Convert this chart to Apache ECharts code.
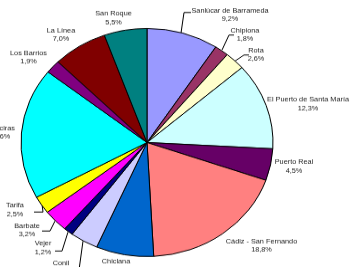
<!DOCTYPE html>
<html><head><meta charset="utf-8">
<script src="https://cdn.jsdelivr.net/npm/echarts@6/dist/echarts.min.js"></script>
<style>
html,body{margin:0;padding:0;background:#fff;overflow:hidden}
#wrap{width:353px;height:267px;overflow:hidden;position:relative}
#c{width:353px;height:295px;transform:scaleY(0.905);transform-origin:0 0}
</style></head><body><div id="wrap"><div id="c"></div></div>
<script>
const SY = 0.905;
const categories = ['Sanlúcar de Barrameda','Chipiona','Rota','El Puerto de Santa María','Puerto Real','Cádiz - San Fernando','Chiclana','Conil','Vejer','Barbate','Tarifa','Algeciras','Los Barrios','La Línea','San Roque'];
const values = [9.2, 1.8, 2.6, 12.3, 4.5, 18.8, 7.4, 3.6, 1.2, 3.2, 2.5, 18.6, 1.9, 7.0, 5.5];
const colors = ['#9999FF','#993366','#FFFFCC','#CCFFFF','#660066','#FF8080','#0066CC','#CCCCFF','#000080','#FF00FF','#FFFF00','#00FFFF','#800080','#800000','#008080'];
// label anchor positions in screen px (x, y)
const labelX = [230, 245, 256, 308, 294, 261.5, 116, 61, 43, 27, 15, 0, 28.5, 61, 113.5];
const labelY = [15, 35, 55, 104, 166.5, 245.7, 266, 268, 248, 230, 210, 132.5, 57.5, 35, 18];
const leaders = [
  [[181,33],[184,12.5],[191,12.5]],
  [[222,50],[229,35],[234,35]],
  [[235,61],[244,55],[249,55]],
  null, null, null, null,
  [[83,241],[79,270],[73,270]],
  [[68,232],[62,251],[55,251]],
  [[55,221],[50,231],[42,231]],
  [[42,204],[43,212],[34,212]],
  null, null, null, null
];
const fmt = v => v.toFixed(1).replace('.', ',') + '%';
const chart = echarts.init(document.getElementById('c'), null, {renderer:'canvas'});
chart.setOption({
  animation:false,
  backgroundColor:'#fff',
  series:[{
    type:'pie',
    center:[147, 142.5/SY],
    radius:[0, 126],
    startAngle:90,
    clockwise:true,
    avoidLabelOverlap:false,
    itemStyle:{borderColor:'#000', borderWidth:1},
    label:{show:true, position:'outside', color:'#222', fontFamily:'Liberation Sans, Arial, sans-serif', fontSize:7.3, lineHeight:9.3,
      formatter: p => p.name + '\n' + fmt(p.value)},
    labelLine:{show:true, lineStyle:{color:'#000', width:1}},
    labelLayout: function(p){
      const i = p.dataIndex;
      const o = {x: labelX[i], y: labelY[i]/SY, align: 'center', verticalAlign:'middle'};
      if (leaders[i]) o.labelLinePoints = leaders[i].map(q => [q[0], q[1]/SY]);
      return o;
    },
    data: categories.map((n, i) => ({name:n, value:values[i], itemStyle:{color:colors[i]}, labelLine:{show: !!leaders[i]}}))
  }]
});
</script></body></html>
